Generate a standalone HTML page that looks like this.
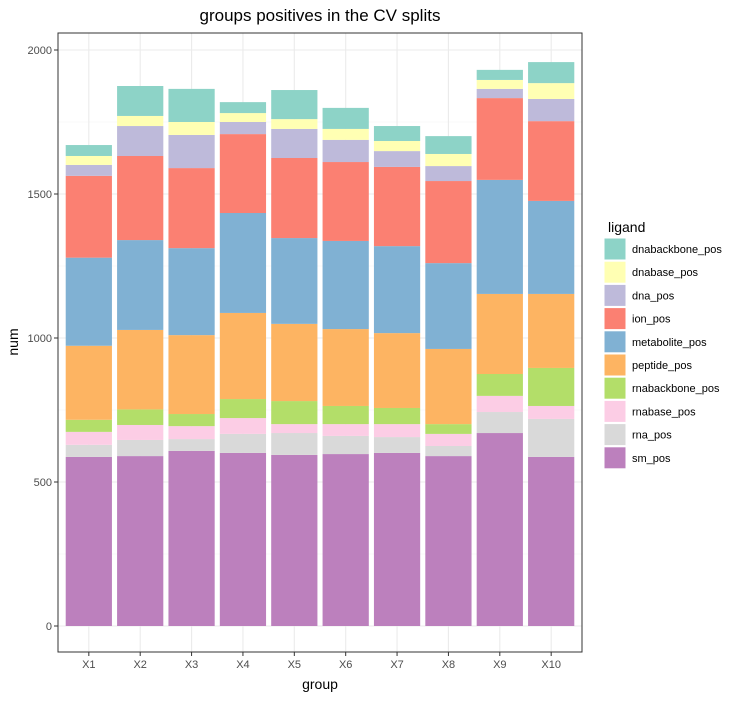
<!DOCTYPE html>
<html><head><meta charset="utf-8"><style>
body{margin:0;background:#fff;font-family:"Liberation Sans",sans-serif;}
svg text{font-family:"Liberation Sans",sans-serif;}
</style></head><body>
<svg id="chart" width="748" height="699" xmlns="http://www.w3.org/2000/svg">
<text x="320" y="21" text-anchor="middle" font-size="17" fill="#000">groups positives in the CV splits</text>
<g id="grid"></g>
<g id="bars"></g>
<rect x="58" y="33" width="524" height="619" fill="none" stroke="#333" stroke-width="1"/>
<g id="axes"></g>
<text x="320" y="689" text-anchor="middle" font-size="14">group</text>
<text x="18" y="342" text-anchor="middle" font-size="14" transform="rotate(-90 18 342)">num</text>
<g id="legend"></g>
</svg>
<script>
const categories=["X1","X2","X3","X4","X5","X6","X7","X8","X9","X10"];
const seriesNames=["sm_pos","rna_pos","rnabase_pos","rnabackbone_pos","peptide_pos","metabolite_pos","ion_pos","dna_pos","dnabase_pos","dnabackbone_pos"];
const seriesColors=["#BC80BD","#D9D9D9","#FCCDE5","#B3DE69","#FDB462","#80B1D3","#FB8072","#BEBADA","#FFFFB3","#8DD3C7"];
const sm_pos=[587,590,608,601,594,597,601,590,670,587];
const rna_pos=[42,56,41,66,76,63,55,35,73,132];
const rnabase_pos=[45,52,45,55,31,41,45,42,56,45];
const rnabackbone_pos=[42,54,42,66,80,63,56,34,76,132];
const peptide_pos=[257,276,274,299,268,267,260,261,278,257];
const metabolite_pos=[306,312,302,347,298,306,302,298,396,323];
const ion_pos=[284,292,278,274,278,274,275,285,284,277];
const dna_pos=[38,104,115,42,101,77,55,52,32,77];
const dnabase_pos=[31,35,45,31,34,38,35,42,31,55];
const dnabackbone_pos=[38,104,115,38,101,73,52,62,35,73];
const yTicks=[0,500,1000,1500,2000];
const series=[sm_pos,rna_pos,rnabase_pos,rnabackbone_pos,peptide_pos,metabolite_pos,ion_pos,dna_pos,dnabase_pos,dnabackbone_pos];

const NS="http://www.w3.org/2000/svg";
const px0=58,pw=524,y0=626,ky=0.288;
const band=pw/(categories.length-1+1.2);
function xc(i){return px0+band*(0.6+i);}
function y(v){return y0-v*ky;}
function mk(tag,attrs,parent){const e=document.createElementNS(NS,tag);for(const k in attrs)e.setAttribute(k,attrs[k]);parent.appendChild(e);return e;}
const grid=document.getElementById('grid'),bars=document.getElementById('bars'),axes=document.getElementById('axes'),legend=document.getElementById('legend');
mk('rect',{x:px0,y:33,width:pw,height:619,fill:'#fff'},grid);
for(let j=0;j<yTicks.length-1;j++){const v=(yTicks[j]+yTicks[j+1])/2;const g=mk('line',{x1:px0,x2:px0+pw,y1:y(v),y2:y(v),stroke:'#f2f2f2','stroke-width':0.6},grid);

}
yTicks.forEach(t=>{const g=mk('line',{x1:px0,x2:px0+pw,y1:y(t),y2:y(t),stroke:'#ebebeb','stroke-width':1.1},grid);


const tk=mk('line',{x1:px0-4,x2:px0,y1:y(t),y2:y(t),stroke:'#333'},axes);


const tx=mk('text',{x:px0-6,y:y(t)+4,'text-anchor':'end','font-size':11,fill:'#4d4d4d'},axes);tx.textContent=t;

});
categories.forEach((c,i)=>{const g=mk('line',{x1:xc(i),x2:xc(i),y1:33,y2:652,stroke:'#ebebeb','stroke-width':1.1},grid);


const tk=mk('line',{x1:xc(i),x2:xc(i),y1:652,y2:656,stroke:'#333'},axes);


const tx=mk('text',{x:xc(i),y:668,'text-anchor':'middle','font-size':11,fill:'#4d4d4d'},axes);tx.textContent=c;


let cum=0;const bw=band*0.9;
series.forEach((s,k)=>{const v=s[i];const r=mk('rect',{x:xc(i)-bw/2,y:y(cum+v),width:bw,height:v*ky,fill:seriesColors[k]},bars);


cum+=v;});});
const lt=mk('text',{x:608,y:232,'font-size':14},legend);lt.textContent='ligand';


for(let k=seriesNames.length-1,r=0;k>=0;k--,r++){const yy=238+r*23.2;
const sw=mk('rect',{x:604,y:yy,width:22,height:22,fill:seriesColors[k],stroke:'#fff','stroke-width':1},legend);


const tx=mk('text',{x:632,y:yy+15,'font-size':11},legend);tx.textContent=seriesNames[k];

}
</script>
</body></html>
